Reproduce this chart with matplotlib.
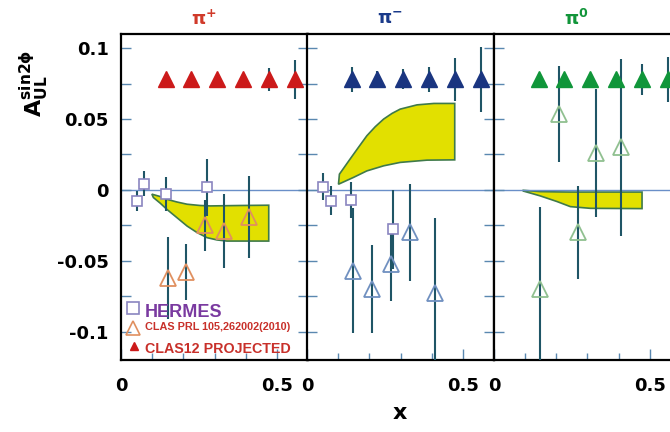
import matplotlib
matplotlib.use('Agg')
import matplotlib.pyplot as plt
import numpy as np

plt.rcParams['font.family'] = ['DejaVu Sans']
plt.rcParams['mathtext.fontset'] = 'dejavusans'
plt.rcParams['mathtext.default'] = 'bf'

# ---- data ----
# CLAS12 projected (filled triangles)
proj_x = [0.143, 0.225, 0.308, 0.391, 0.475, 0.557]
pip_proj_y = [0.078, 0.078, 0.078, 0.078, 0.078, 0.078]
pip_proj_err = [0.001, 0.001, 0.001, 0.002, 0.008, 0.014]
pim_proj_y = [0.078, 0.078, 0.078, 0.078, 0.078, 0.078]
pim_proj_err = [0.009, 0.006, 0.007, 0.009, 0.015, 0.023]
pi0_proj_y = [0.078, 0.078, 0.078, 0.078, 0.078, 0.078]
pi0_proj_err = [0.003, 0.003, 0.003, 0.004, 0.011, 0.016]

# HERMES (open squares)
pip_herm_x = [0.050, 0.075, 0.144, 0.276]
pip_herm_y = [-0.008, 0.0045, -0.003, 0.0017]
pip_herm_err = [0.007, 0.009, 0.012, 0.020]
pim_herm_x = [0.050, 0.076, 0.141, 0.277]
pim_herm_y = [0.0024, -0.0075, -0.0071, -0.0278]
pim_herm_err = [0.0095, 0.010, 0.013, 0.028]

# CLAS PRL 105,262002(2010) (open triangles)
pip_clas_x = [0.152, 0.209, 0.270, 0.329, 0.410]
pip_clas_y = [-0.062, -0.058, -0.025, -0.029, -0.019]
pip_clas_err = [0.029, 0.020, 0.018, 0.026, 0.029]
pim_clas_x = [0.149, 0.210, 0.269, 0.331, 0.412]
pim_clas_y = [-0.057, -0.070, -0.0525, -0.030, -0.0726]
pim_clas_err = [0.044, 0.031, 0.026, 0.034, 0.053]
pi0_clas_x = [0.146, 0.209, 0.268, 0.328, 0.408]
pi0_clas_y = [-0.070, 0.0535, -0.030, 0.026, 0.030]
pi0_clas_err = [0.058, 0.034, 0.033, 0.045, 0.0625]

# model bands: upper and lower edges
pip_hi_x = [0.099, 0.126, 0.147, 0.179, 0.212, 0.254, 0.287, 0.383, 0.474]
pip_hi_y = [-0.0030, -0.0047, -0.0066, -0.0085, -0.0101, -0.0110, -0.0113, -0.0110, -0.0108]
pip_lo_x = [0.104, 0.126, 0.147, 0.179, 0.212, 0.244, 0.276, 0.308, 0.340, 0.474]
pip_lo_y = [-0.0054, -0.0094, -0.0137, -0.0195, -0.0255, -0.0301, -0.0337, -0.0353, -0.0361, -0.0361]

pim_hi_x = [0.104, 0.138, 0.165, 0.192, 0.219, 0.246, 0.273, 0.299, 0.353, 0.407, 0.474]
pim_hi_y = [0.0111, 0.0217, 0.030, 0.0382, 0.0446, 0.050, 0.054, 0.057, 0.060, 0.061, 0.061]
pim_lo_x = [0.101, 0.149, 0.192, 0.246, 0.299, 0.385, 0.474]
pim_lo_y = [0.004, 0.0088, 0.0134, 0.017, 0.0194, 0.021, 0.0212]

pi0_hi_x = [0.094, 0.148, 0.202, 0.245, 0.309, 0.475]
pi0_hi_y = [-0.0003, -0.0012, -0.0014, -0.0015, -0.0015, -0.0015]
pi0_lo_x = [0.094, 0.148, 0.202, 0.245, 0.309, 0.475]
pi0_lo_y = [-0.0008, -0.0042, -0.0082, -0.0118, -0.0130, -0.0132]

y_ticks = [-0.1, -0.05, 0, 0.05, 0.1]
y_tick_labels = ['-0.1', '-0.05', '0', '0.05', '0.1']
x_ticks = [0, 0.5]
x_tick_labels = ['0', '0.5']

# ---- style ----
bar_col = '#1f5566'
tick_col = '#5a88b0'
band_face = '#e2e000'
band_edge = '#3f7a4a'
titles = [r'$\pi^{+}$', r'$\pi^{-}$', r'$\pi^{0}$']
title_cols = ['#d03a2a', '#1a3a8a', '#12953a']
proj_cols = ['#cc1a1a', '#1a3580', '#10963a']
clas_edge = ['#e09060', '#7090c0', '#90c090']

proj_y = [pip_proj_y, pim_proj_y, pi0_proj_y]
proj_err = [pip_proj_err, pim_proj_err, pi0_proj_err]
herm = [(pip_herm_x, pip_herm_y, pip_herm_err), (pim_herm_x, pim_herm_y, pim_herm_err), None]
clas = [(pip_clas_x, pip_clas_y, pip_clas_err), (pim_clas_x, pim_clas_y, pim_clas_err),
        (pi0_clas_x, pi0_clas_y, pi0_clas_err)]
bands = [(pip_hi_x, pip_hi_y, pip_lo_x, pip_lo_y), (pim_hi_x, pim_hi_y, pim_lo_x, pim_lo_y),
         (pi0_hi_x, pi0_hi_y, pi0_lo_x, pi0_lo_y)]

fig = plt.figure(figsize=(6.7, 4.32), dpi=100)
lefts = [121 / 670, 307 / 670, 494 / 670]
axes = []
for i in range(3):
    ax = fig.add_axes([lefts[i], 0.1667, 187 / 670, 0.7546])
    axes.append(ax)
    ax.set_xlim(0, 0.6)
    ax.set_ylim(-0.12, 0.11)

    ax.axhline(0, color='#6a8fc8', lw=1.0, zorder=1.5)
    hx, hy, lx, ly = bands[i]
    ax.fill(list(hx) + list(lx)[::-1], list(hy) + list(ly)[::-1],
            facecolor=band_face, edgecolor=band_edge, lw=1.2, zorder=1)

    if herm[i] is not None:
        sx, sy, se = herm[i]
        ax.errorbar(sx, sy, yerr=se, fmt='s', ms=7, mfc='white', mec='#8a85c0', mew=1.2,
                    ecolor=bar_col, elinewidth=1.5, capsize=0, zorder=3)
    cx, cy, ce = clas[i]
    ax.errorbar(cx, cy, yerr=ce, fmt='^', ms=11, mfc='none', mec=clas_edge[i], mew=1.3,
                ecolor=bar_col, elinewidth=1.5, capsize=0, zorder=3)
    ax.errorbar(proj_x, proj_y[i], yerr=proj_err[i], fmt='^', ms=11, mfc=proj_cols[i],
                mec=proj_cols[i], ecolor=bar_col, elinewidth=1.5, capsize=0, zorder=4)

    ax.text(0.265, 0.1206, titles[i], color=title_cols[i], fontsize=13,
            ha='center', va='center', clip_on=False)

    for sp in ax.spines.values():
        sp.set_linewidth(1.6)
        sp.set_color('black')

    ax.set_yticks(y_ticks)
    ax.set_yticks([-0.075, -0.025, 0.025, 0.075], minor=True)
    ax.set_xticks(x_ticks)
    ax.set_xticks([0.1, 0.2, 0.3, 0.4], minor=True)
    ax.set_xticklabels(x_tick_labels, fontsize=13, fontweight='bold')
    if i == 0:
        ax.set_yticklabels(y_tick_labels, fontsize=13, fontweight='bold')
    else:
        ax.set_yticklabels([])
    ax.tick_params(axis='y', which='both', direction='in', length=7, width=1,
                   color=tick_col, left=True, right=True, pad=9)
    ax.tick_params(axis='x', which='major', direction='in', length=8, width=1,
                   color=tick_col, top=False, pad=12)
    ax.tick_params(axis='x', which='minor', direction='in', length=5, width=1,
                   color=tick_col, top=False)

# legend drawn by hand inside the first panel
ax = axes[0]
lfont = ['Liberation Sans', 'DejaVu Sans']
ax.plot([0.066], [0.159], 's', ms=8, mfc='white', mec='#8a85c0', mew=1.2,
        transform=ax.transAxes, clip_on=False)
ax.text(0.129, 0.145, 'HERMES', color='#7a3aa0', fontsize=13, fontweight='bold',
        family=lfont, transform=ax.transAxes, va='center')
ax.plot([0.066], [0.099], '^', ms=10, mfc='none', mec='#e09060', mew=1.2,
        transform=ax.transAxes, clip_on=False)
ax.text(0.129, 0.101, 'CLAS PRL 105,262002(2010)', color='#c8302a', fontsize=7.8,
        fontweight='bold', family=lfont, transform=ax.transAxes, va='center', clip_on=False)
ax.plot([0.071], [0.043], '^', ms=6, mfc='#cc1a1a', mec='#cc1a1a',
        transform=ax.transAxes, clip_on=False)
ax.text(0.129, 0.033, 'CLAS12 PROJECTED', color='#c8302a', fontsize=10.3,
        fontweight='bold', family=lfont, transform=ax.transAxes, va='center')

fig.text(34 / 670, 1 - 83 / 432, r'$\mathbf{A}_{\mathbf{UL}}^{\mathbf{sin2\phi}}$',
         fontsize=16, rotation=90, ha='center', va='center')
fig.text(400 / 670, 1 - 413 / 432, 'x', fontsize=16, fontweight='bold',
         ha='center', va='center')

fig.savefig('out.png', dpi=100)
